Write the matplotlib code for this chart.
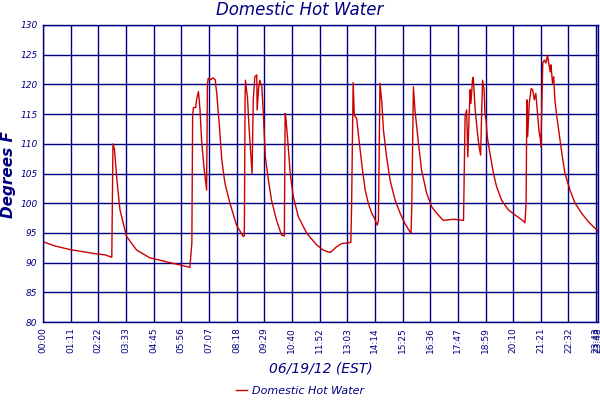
import matplotlib
matplotlib.use("Agg")
import matplotlib.pyplot as plt

# time in minutes after midnight, temperature in degrees F
minutes = [0, 31, 69, 134, 160, 177, 178, 180, 184, 190, 198, 215, 241, 275, 327, 365, 378,
           383, 385, 387, 393, 395, 400, 404, 408, 414, 421, 423, 425, 432, 437, 443, 447,
           454, 460, 468, 481, 498, 515, 518, 520, 521, 524, 526, 530, 534, 538, 541, 545,
           550, 551, 555, 558, 563, 567, 572, 580, 588, 601, 614, 621, 623, 625, 631, 636,
           644, 657, 679, 704, 721, 739, 756, 769, 792, 794, 798, 801, 807, 814, 822, 829,
           837, 846, 854, 860, 863, 867, 872, 876, 884, 893, 906, 919, 931, 944, 947, 949,
           953, 957, 966, 974, 987, 1000, 1013, 1030, 1056, 1082, 1086, 1090, 1093, 1096,
           1099, 1101, 1105, 1107, 1112, 1118, 1122, 1126, 1129, 1131, 1135, 1137, 1140,
           1143, 1150, 1159, 1167, 1180, 1197, 1215, 1232, 1240, 1243, 1245, 1247, 1251,
           1256, 1260, 1264, 1268, 1273, 1276, 1280, 1281, 1283, 1286, 1290, 1294, 1298,
           1300, 1305, 1307, 1311, 1314, 1317, 1322, 1328, 1335, 1343, 1356, 1369, 1386,
           1403, 1420, 1428]
temps = [93.5, 92.8, 92.2, 91.5, 91.3, 90.9, 97.2, 110.0, 109.0, 104.0, 98.9, 94.4, 92.1,
         90.8, 90.0, 89.4, 89.2,
         93.3, 114.7, 116.1, 116.1, 117.4, 118.8, 115.7, 110.6, 106.1, 102.2, 120.0, 121.0,
         120.8, 121.1, 120.8, 118.5,
         112.9, 107.3, 103.4, 100.0, 96.3, 94.4, 94.5, 118.0, 120.7, 118.8, 117.9, 112.9,
         109.0, 105.0, 117.4, 121.3,
         121.6, 115.7, 119.6, 120.7, 119.6, 115.1, 107.8, 103.9, 100.5, 97.1, 94.6, 94.5,
         115.1, 114.3, 109.5, 105.0,
         101.1, 97.7, 94.9, 93.0, 92.1, 91.7, 92.7, 93.2, 93.4, 99.4, 120.3, 114.8, 114.3,
         110.1, 105.6, 102.2,
         100.0, 98.3, 97.3, 96.3, 97.0, 120.2, 116.8, 112.3, 107.8, 103.9, 100.5, 98.3,
         96.6, 95.2, 95.0, 100.0,
         119.6, 115.7, 110.1, 105.6, 101.7, 99.4, 98.3, 97.1, 97.3, 97.1, 114.6, 115.7,
         107.8, 114.0,
         119.1, 116.8, 120.7, 121.2, 115.7, 111.8, 109.5, 108.1, 116.2, 120.7, 119.1,
         115.1, 114.0,
         111.2, 108.4, 105.0, 102.8, 100.5, 98.9, 98.0, 97.2, 96.7, 100.0, 117.4, 111.2,
         116.8,
         119.3, 119.1, 117.4, 118.5, 114.6, 112.3, 110.6, 109.5, 115.1, 123.6, 124.1,
         123.6, 124.9,
         124.1, 122.1, 123.3, 120.2, 121.3, 117.4, 114.6, 111.8, 108.4, 105.0, 102.2,
         100.0, 98.3,
         96.9, 95.8, 95.4]

tick_minutes = [0, 71, 142, 213, 285, 356, 427, 498, 569, 640, 712, 783, 854, 925, 996,
                1067, 1139, 1210, 1281, 1352, 1423, 1428]
tick_labels = ["00:00", "01:11", "02:22", "03:33", "04:45", "05:56", "07:07", "08:18",
               "09:29", "10:40", "11:52", "13:03", "14:14", "15:25", "16:36", "17:47",
               "18:59", "20:10", "21:21", "22:32", "23:43", "23:48"]
y_ticks = [80, 85, 90, 95, 100, 105, 110, 115, 120, 125, 130]

navy = "#000080"
red = "#CC0000"

fig = plt.figure(figsize=(6, 4), dpi=100)
ax = fig.add_axes([43/600, 1 - 322/400, 555/600, 297/400])
ax.plot(minutes, temps, color=red, lw=1.0, label="Domestic Hot Water")
ax.set_xlim(0, 1428)
ax.set_ylim(80, 130)
ax.set_xticks(tick_minutes)
ax.set_xticklabels(tick_labels, rotation=90, fontsize=6.5, color=navy)
ax.set_yticks(y_ticks)
ax.set_yticklabels([str(v) for v in y_ticks], fontsize=6.5, color=navy, style="italic")
ax.tick_params(length=0, pad=4)
ax.grid(True, color=navy, lw=1.0)
ax.set_axisbelow(True)
for s in ax.spines.values():
    s.set_color(navy)
    s.set_linewidth(1.0)

fig.text(0.5, 0.975, "Domestic Hot Water", ha="center", va="center", fontsize=12,
         color=navy, style="italic")
ax.set_xlabel("06/19/12 (EST)", fontsize=10, color=navy, style="italic", labelpad=6)
fig.text(9/600, 1 - 175/400, "Degrees F", rotation=90, ha="center", va="center",
         fontsize=11, color=navy, style="italic", fontweight="bold")
fig.legend(loc="lower center", bbox_to_anchor=(0.5, -0.015), frameon=False,
           labelcolor=navy, prop={"style": "italic", "size": 8}, handlelength=1.0,
           handletextpad=0.4)
fig.savefig("out.png", dpi=100)
